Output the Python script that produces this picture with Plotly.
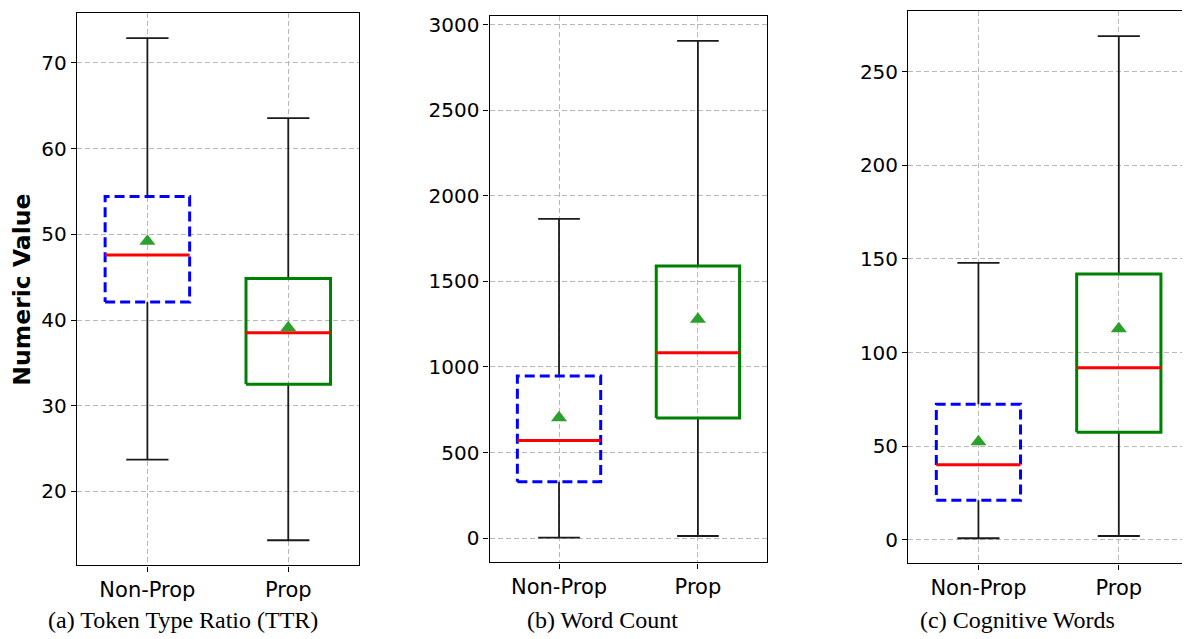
import plotly.graph_objects as go

# ---------------- data ----------------
categories = ["Non-Prop", "Prop"]
panel_titles = ["(a) Token Type Ratio (TTR)", "(b) Word Count", "(c) Cognitive Words"]

ttr_low = [23.7, 14.3]
ttr_q1 = [42.1, 32.5]
ttr_median = [47.6, 38.5]
ttr_q3 = [54.4, 44.85]
ttr_high = [72.9, 63.55]
ttr_mean = [49.2, 39.1]

wc_low = [3, 12]
wc_q1 = [329, 702]
wc_median = [571, 1084]
wc_q3 = [947, 1591]
wc_high = [1866, 2907]
wc_mean = [704, 1279]

cog_low = [0.9, 2.1]
cog_q1 = [21.2, 57.5]
cog_median = [40.1, 92.0]
cog_q3 = [72.4, 142.0]
cog_high = [147.9, 269.0]
cog_mean = [52.4, 112.8]

y_ticks = [[20, 30, 40, 50, 60, 70],
           [0, 500, 1000, 1500, 2000, 2500, 3000],
           [0, 50, 100, 150, 200, 250]]

# ---------------- style / layout ----------------
OFF = 8                      # page body margin in the browser
FW, FH = 1190 - OFF, 639 - OFF


def px(x):
    return (x - OFF) / FW


def py(y):
    return 1 - (y - OFF) / FH


BOX_HALF = 0.3
CAP_HALF = 0.15
box_colors = ["#0000ff", "#008000"]
box_dash = ["10px,5px", "solid"]
YTICK_FONT = dict(family="DejaVu Sans", size=20, color="black")
XTICK_FONT = dict(family="DejaVu Sans", size=21, color="black")
CAP_FONT = dict(family="Liberation Serif", size=24, color="black")

panels = [
    dict(low=ttr_low, q1=ttr_q1, med=ttr_median, q3=ttr_q3, high=ttr_high, mean=ttr_mean,
         xdom=(77, 359), ydom=(10, 565), cap_x=183),
    dict(low=wc_low, q1=wc_q1, med=wc_median, q3=wc_q3, high=wc_high, mean=wc_mean,
         xdom=(490, 768), ydom=(13, 562), cap_x=603),
    dict(low=cog_low, q1=cog_q1, med=cog_median, q3=cog_q3, high=cog_high, mean=cog_mean,
         xdom=(909, 1190), ydom=(8, 563), cap_x=1018),
]

fig = go.Figure()
positions = [1, 2]

for pi, p in enumerate(panels):
    sfx = "" if pi == 0 else str(pi + 1)
    xa, ya = "x" + sfx, "y" + sfx
    for i, c in enumerate(positions):
        lo, q1, md, q3, hi, mn = p["low"][i], p["q1"][i], p["med"][i], p["q3"][i], p["high"][i], p["mean"][i]
        # whiskers
        fig.add_trace(go.Scatter(
            x=[c, c, None, c, c], y=[lo, q1, None, q3, hi], mode="lines",
            line=dict(color="#1a1a1a", width=1.8), xaxis=xa, yaxis=ya, hoverinfo="skip"))
        # caps
        fig.add_trace(go.Scatter(
            x=[c - CAP_HALF, c + CAP_HALF, None, c - CAP_HALF, c + CAP_HALF],
            y=[lo, lo, None, hi, hi], mode="lines",
            line=dict(color="#1a1a1a", width=1.8), xaxis=xa, yaxis=ya, hoverinfo="skip"))
        # box
        fig.add_trace(go.Scatter(
            x=[c - BOX_HALF, c + BOX_HALF, c + BOX_HALF, c - BOX_HALF, c - BOX_HALF],
            y=[q1, q1, q3, q3, q1], mode="lines",
            line=dict(color=box_colors[i], width=3, dash=box_dash[i]),
            xaxis=xa, yaxis=ya, hoverinfo="skip"))
        # median
        fig.add_trace(go.Scatter(
            x=[c - BOX_HALF, c + BOX_HALF], y=[md, md], mode="lines",
            line=dict(color="#ff0000", width=3), xaxis=xa, yaxis=ya, hoverinfo="skip"))
        # mean
        fig.add_trace(go.Scatter(
            x=[c], y=[mn], mode="markers",
            marker=dict(symbol="triangle-up", size=14, color="#2ca02c"),
            xaxis=xa, yaxis=ya, hoverinfo="skip"))

    lo_all = min(p["low"]); hi_all = max(p["high"])
    pad = 0.05 * (hi_all - lo_all)
    x0, x1 = p["xdom"]; yt, yb = p["ydom"]
    axis_common = dict(showline=True, mirror=True, linecolor="black", linewidth=1.3,
                       ticks="outside", ticklen=5, tickwidth=1.3, tickcolor="black",
                       showgrid=True, gridcolor="#b8b8b8",
                       griddash="5px,3px", gridwidth=1, zeroline=False)
    fig.update_layout(**{
        "xaxis" + sfx: dict(domain=[px(x0), min(px(x1), 1.0)], range=[0.5, 2.5],
                            tickvals=positions, ticktext=categories, anchor=ya,
                            tickfont=XTICK_FONT, **axis_common),
        "yaxis" + sfx: dict(domain=[py(yb), min(py(yt), 1.0)], range=[lo_all - pad, hi_all + pad],
                            tickvals=y_ticks[pi], anchor=xa, tickfont=YTICK_FONT, **axis_common),
    })
    fig.add_annotation(text=panel_titles[pi], x=px(p["cap_x"]), y=py(620),
                       xref="paper", yref="paper", showarrow=False,
                       xanchor="center", yanchor="middle", font=CAP_FONT)

fig.add_annotation(text="<b>Numeric Value</b>", x=px(22), y=py(288), xref="paper", yref="paper",
                   showarrow=False, textangle=-90, xanchor="center", yanchor="middle",
                   font=dict(family="DejaVu Sans", size=23.5, color="black"))

fig.update_layout(width=FW, height=FH, margin=dict(l=0, r=0, t=0, b=0),
                  paper_bgcolor="white", plot_bgcolor="white", showlegend=False)

fig.write_html("out.html")
